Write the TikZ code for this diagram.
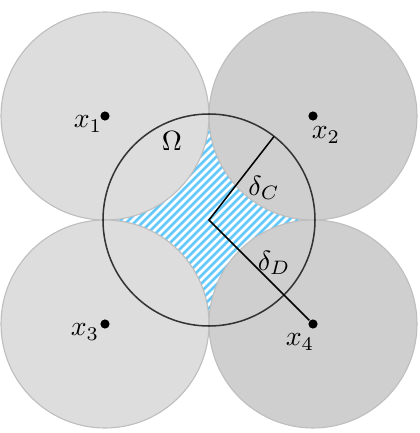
\documentclass[tikz,border=0pt]{standalone}
\definecolor{lightdisk}{RGB}{221,221,221}
\definecolor{darkdisk}{RGB}{207,207,207}
\definecolor{diskrim}{RGB}{190,190,190}
\definecolor{hatchblue}{RGB}{100,200,250}
\tikzset{
  dot/.style={circle, fill=black, inner sep=0pt, minimum size=3.3pt},
  lbl/.style={inner sep=1pt},
  rim/.style={draw=diskrim, line width=0.4pt},
}
\begin{document}
\begin{tikzpicture}[x=0.36pt, y=0.36pt]
    \useasboundingbox (0, 0) rectangle (419, 433);

    \coordinate (O) at (209, 213);
    \coordinate (C) at (274, 296.5);

    \begin{scope}
      \clip (O) circle (106);
      \foreach \k in {-35,...,35}
        \draw [hatchblue, line width=1pt] (209 + \k*8 - 130, 213 - 130) -- ++(260, 260);
    \end{scope}

    \node [dot] (x1) at (105, 317) {};
    \node [dot] (x2) at (313, 317) {};
    \node [dot] (x3) at (105, 109) {};
    \node [dot] (x4) at (313, 109) {};

    \fill [lightdisk, rim] (x1) circle (104);
    \fill [darkdisk, rim] (x2) circle (104);
    \fill [lightdisk, rim] (x3) circle (104);
    \fill [darkdisk, rim] (x4) circle (104);

    \node [dot] at (x1) {};
    \node [dot] at (x2) {};
    \node [dot] at (x3) {};
    \node [dot] at (x4) {};

    \draw [black!80, line width=0.55pt] (O) circle (106);
    \draw [line width=0.55pt] (C) -- (O) -- (x4);

    \node [lbl] (l1) at (88, 309) {$x_1$};
    \node [lbl] (l2) at (326, 298) {$x_2$};
    \node [lbl] (l3) at (85, 101) {$x_3$};
    \node [lbl] (l4) at (300, 91) {$x_4$};
    \node [lbl] (om) at (172, 292) {$\Omega$};
    \node [lbl] (dc) at (264, 245) {$\delta_C$};
    \node [lbl] (dd) at (274, 170) {$\delta_D$};

  \end{tikzpicture}
\end{document}
